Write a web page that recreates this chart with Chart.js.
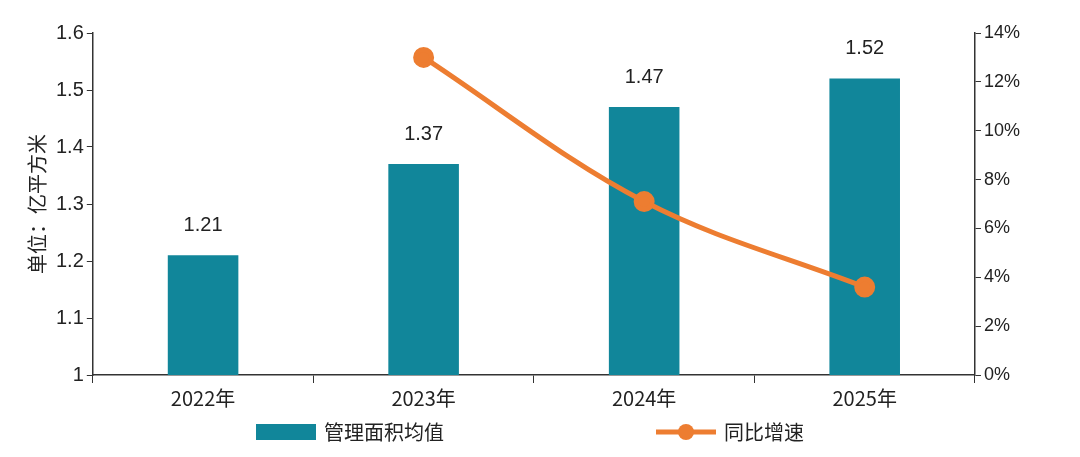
<!DOCTYPE html>
<html>
<head>
<meta charset="utf-8">
<script src="https://cdn.jsdelivr.net/npm/chart.js@4"></script>
<style>
  body { margin: 0; background: #fff; }
  #wrap { width: 1080px; height: 457px; }
</style>
</head>
<body>
<div id="wrap"><canvas id="c"></canvas></div>
<script>
const years = ['2022年', '2023年', '2024年', '2025年'];
const avgArea = [1.21, 1.37, 1.47, 1.52];
const yoyGrowth = [null, 13.0, 7.1, 3.6];

const barColor = '#11869a';
const lineColor = '#ed7d31';

// numbers over the bars + legend at the bottom
const extras = {
  id: 'extras',
  afterDatasetsDraw(chart) {
    const ctx = chart.ctx;
    const meta = chart.getDatasetMeta(1);
    ctx.save();
    ctx.font = '20px "Liberation Sans", Arial, sans-serif';
    ctx.fillStyle = '#222';
    ctx.textAlign = 'center';
    ctx.textBaseline = 'bottom';
    meta.data.forEach((bar, i) => {
      ctx.fillText(avgArea[i].toFixed(2), bar.x, bar.y - 20);
    });

    // legend
    const ly = 432;
    ctx.fillStyle = barColor;
    ctx.fillRect(256, ly - 8, 60, 16);
    ctx.strokeStyle = lineColor;
    ctx.lineWidth = 5;
    ctx.beginPath();
    ctx.moveTo(656, ly);
    ctx.lineTo(716, ly);
    ctx.stroke();
    ctx.fillStyle = lineColor;
    ctx.beginPath();
    ctx.arc(686, ly, 8, 0, Math.PI * 2);
    ctx.fill();
    ctx.font = '20px "Noto Sans CJK SC", sans-serif';
    ctx.fillStyle = '#222';
    ctx.textAlign = 'left';
    ctx.textBaseline = 'middle';
    ctx.fillText('管理面积均值', 324, ly);
    ctx.fillText('同比增速', 724, ly);
    ctx.restore();
  }
};

new Chart(document.getElementById('c').getContext('2d'), {
  data: {
    labels: years,
    datasets: [
      {
        type: 'line',
        label: '同比增速',
        data: yoyGrowth,
        yAxisID: 'y1',
        borderColor: lineColor,
        backgroundColor: lineColor,
        borderWidth: 5,
        pointRadius: 8,
        pointHoverRadius: 8,
        tension: 0.35,
        order: 0
      },
      {
        type: 'bar',
        label: '管理面积均值',
        data: avgArea,
        yAxisID: 'y',
        backgroundColor: barColor,
        barPercentage: 0.32,
        categoryPercentage: 1,
        order: 1
      }
    ]
  },
  plugins: [extras],
  options: {
    responsive: true,
    maintainAspectRatio: false,
    animation: false,
    layout: { padding: { left: 21, right: 57, top: 33, bottom: 44 } },
    plugins: {
      tooltip: { enabled: false },
      legend: { display: false }
    },
    scales: {
      x: {
        offset: true,
        grid: { display: true, offset: true, drawOnChartArea: false, color: '#333', tickLength: 8 },
        border: { color: '#333', width: 1.5 },
        ticks: { font: { size: 20, family: '"Noto Sans CJK SC", sans-serif' }, color: '#222' }
      },
      y: {
        position: 'left',
        min: 1, max: 1.6,
        ticks: { stepSize: 0.1, font: { size: 20, family: '"Liberation Sans", sans-serif' }, color: '#222',
          callback: v => Math.round(v * 10) / 10 },
        grid: { display: true, drawOnChartArea: false, color: '#333', tickLength: 6 },
        border: { color: '#333', width: 1.5 },
        title: { display: true, text: '单位：亿平方米', font: { size: 20, family: '"Noto Sans CJK SC", sans-serif' }, color: '#222' }
      },
      y1: {
        position: 'right',
        min: 0, max: 14,
        ticks: { stepSize: 2, font: { size: 18, family: '"Liberation Sans", sans-serif' }, color: '#222',
          callback: v => v + '%' },
        grid: { display: true, drawOnChartArea: false, color: '#333', tickLength: 6 },
        border: { color: '#333', width: 1.5 }
      }
    }
  }
});
</script>
</body>
</html>
